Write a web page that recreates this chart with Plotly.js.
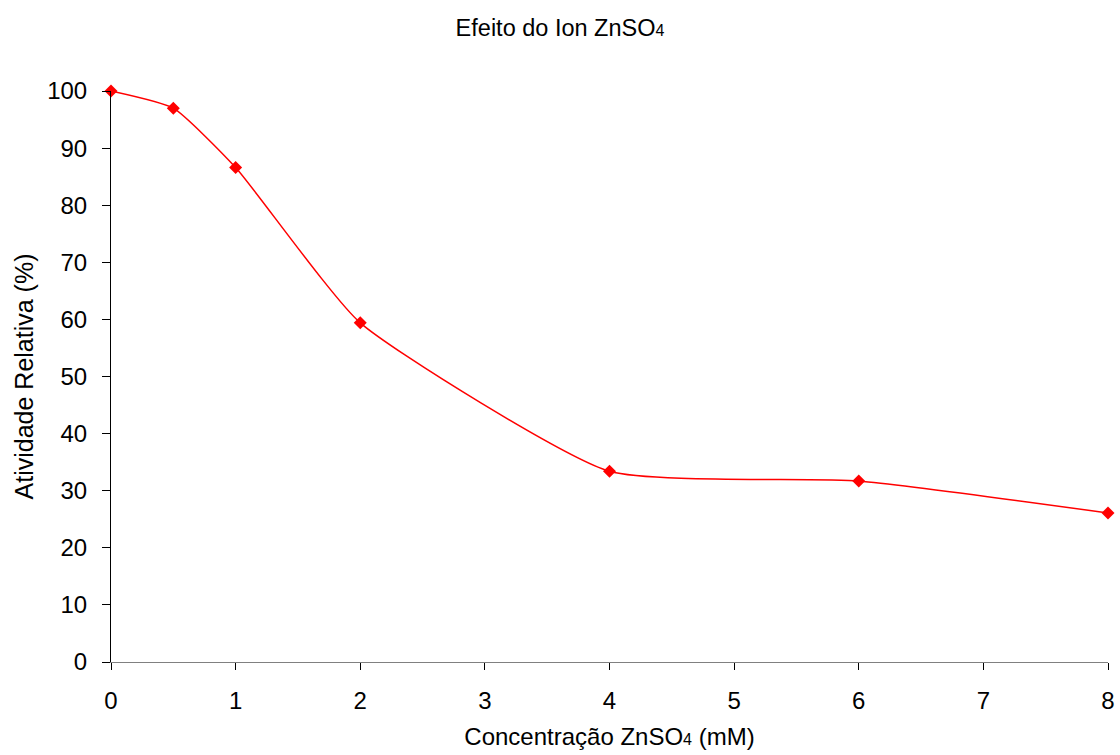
<!DOCTYPE html>
<html>
<head>
<meta charset="utf-8">
<script src="https://cdn.plot.ly/plotly-3.0.1.min.js"></script>
<style>html,body{margin:0;padding:0;background:#fff;}#chart{width:1120px;height:755px;}</style>
</head>
<body>
<div id="chart"></div>
<script>
const concentracao = [0, 0.5, 1, 2, 4, 6, 8];
const atividade = [100, 97, 86.6, 59.4, 33.4, 31.7, 26.1];
const xTicks = [0, 1, 2, 3, 4, 5, 6, 7, 8];
const yTicks = [0, 10, 20, 30, 40, 50, 60, 70, 80, 90, 100];

const font = 'Liberation Sans, Arial, sans-serif';
Plotly.newPlot('chart', [{
  x: concentracao,
  y: atividade,
  type: 'scatter',
  mode: 'lines+markers',
  line: {color: '#ff0000', width: 1.5, shape: 'spline', smoothing: 0.5},
  marker: {symbol: 'diamond', size: 10, color: '#ff0000'},
  cliponaxis: false
}], {
  width: 1120, height: 755,
  margin: {l: 111, r: 12, t: 91, b: 93},
  paper_bgcolor: '#fff', plot_bgcolor: '#fff',
  showlegend: false,
  font: {family: font, color: '#000', size: 23},
  title: {text: 'Efeito do Ion ZnSO<span style="font-size:16px">4</span>', font: {family: font, size: 23.5, color: '#000'}, x: 0.5, xanchor: 'center', y: 0.963, yanchor: 'middle'},
  xaxis: {
    range: [0, 8], tickvals: xTicks, ticktext: xTicks.map(String),
    showgrid: false, zeroline: false, showline: true, linecolor: '#808080', linewidth: 1,
    ticks: 'outside', ticklen: 7, tickcolor: '#000', tickfont: {size: 24},
    ticklabelstandoff: 10,
    title: {text: 'Concentração ZnSO<span style="font-size:16px">4</span> (mM)', font: {size: 24}, standoff: 15}
  },
  yaxis: {
    range: [0, 100], tickvals: yTicks, ticktext: yTicks.map(String),
    showgrid: false, zeroline: false, showline: true, linecolor: '#000', linewidth: 1,
    ticks: 'outside', ticklen: 8, tickcolor: '#000', tickfont: {size: 24},
    ticklabelstandoff: 10,
    title: {text: 'Atividade Relativa (%)', font: {size: 25}, standoff: 6}
  }
}, {displayModeBar: false, staticPlot: true});
</script>
</body>
</html>
